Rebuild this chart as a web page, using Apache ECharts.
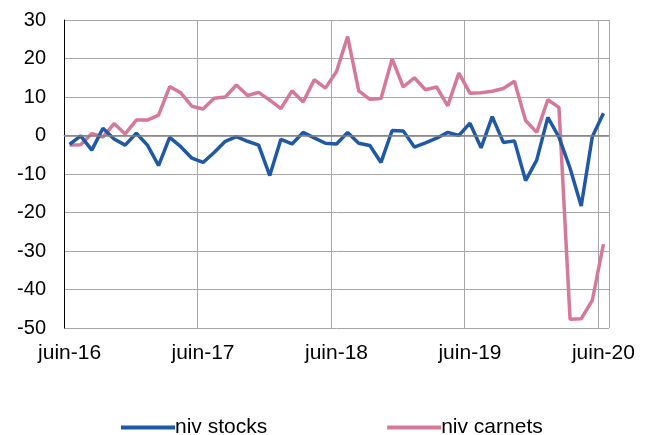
<!DOCTYPE html>
<html>
<head>
<meta charset="utf-8">
<script src="https://cdn.jsdelivr.net/npm/echarts@6/dist/echarts.min.js"></script>
<style>
html,body{margin:0;padding:0;background:#fff;}
#chart{width:652px;height:435px;}
</style>
</head>
<body>
<div id="chart"></div>
<script>
// Monthly categories, June 2016 to June 2020
const monthNames = ['juin','juil.','août','sept.','oct.','nov.','déc.','janv.','févr.','mars','avr.','mai'];
const startYears = [16,16,16,16,16,16,16,17,17,17,17,17];
const categories = [];
for (let i = 0; i < 49; i++) {
  const m = i % 12;
  const y = startYears[m] + Math.floor(i / 12);
  categories.push(monthNames[m] + '-' + y);
}

const nivStocks = [-2.3, -0.1, -3.8, 1.9, -0.9, -2.5, 0.6, -2.5, -7.8, -0.5, -2.9, -5.9, -7.0, -4.4, -1.5, -0.3, -1.5, -2.5, -10.4, -1.0, -2.2, 0.8, -0.6, -2.0, -2.2, 0.8, -2.0, -2.6, -7.0, 1.3, 1.2, -3.0, -1.9, -0.7, 0.8, 0.0, 3.2, -3.2, 4.9, -1.8, -1.4, -11.7, -6.4, 4.7, -0.4, -8.5, -18.3, -0.3, 5.8];
const nivCarnets = [-2.5, -2.4, 0.5, -0.4, 3.1, 0.4, 4.0, 4.0, 5.3, 12.7, 11.1, 7.6, 6.9, 9.7, 10.0, 13.1, 10.4, 11.2, 9.2, 7.0, 11.6, 8.7, 14.5, 12.3, 16.6, 25.7, 11.6, 9.4, 9.6, 19.9, 12.6, 15.0, 11.9, 12.6, 7.7, 16.2, 11.0, 11.1, 11.5, 12.2, 14.1, 3.9, 0.8, 9.3, 7.3, -47.7, -47.6, -42.8, -28.2];

const yMin = -50, yMax = 30, yStep = 10;
const seriesNames = ['niv stocks', 'niv carnets'];

const FONT = '"Liberation Sans", Arial, sans-serif';
const chart = echarts.init(document.getElementById('chart'), null, {renderer: 'canvas'});
chart.setOption({
  animation: false,
  backgroundColor: '#ffffff',
  textStyle: {fontFamily: FONT},
  grid: {left: 64, right: 43, top: 20, bottom: 107},
  legend: {
    data: seriesNames,
    left: 116, top: 412,
    itemGap: 120,
    itemWidth: 54, itemHeight: 4,
    icon: 'rect',
    textStyle: {fontFamily: FONT, fontSize: 21, color: '#000', padding: [0, 0, 0, -5]}
  },
  xAxis: {
    type: 'category',
    data: categories,
    boundaryGap: true,
    axisLine: {show: true, lineStyle: {color: '#a6a6a6', width: 1}},
    axisTick: {show: false, interval: 11},
    axisLabel: {interval: 11, fontSize: 21, color: '#000', fontFamily: FONT, margin: 15},
    splitLine: {show: true, interval: 11, lineStyle: {color: '#a6a6a6', width: 1}}
  },
  yAxis: {
    type: 'value',
    min: yMin, max: yMax, interval: yStep,
    axisLine: {show: true, lineStyle: {color: '#000', width: 1}},
    axisTick: {show: false},
    axisLabel: {fontSize: 20, color: '#000', fontFamily: FONT, margin: 18},
    splitLine: {show: true, lineStyle: {color: '#a6a6a6', width: 1}}
  },
  series: [
    {
      name: seriesNames[0], type: 'line', data: nivStocks,
      symbol: 'none', z: 3,
      lineStyle: {color: '#1f58a5', width: 3.5},
      itemStyle: {color: '#1f58a5'},
      markLine: {
        silent: true, symbol: 'none', label: {show: false},
        lineStyle: {color: '#808080', width: 1.5, type: 'solid'},
        data: [{yAxis: 0}]
      }
    },
    {
      name: seriesNames[1], type: 'line', data: nivCarnets,
      symbol: 'none', z: 2,
      lineStyle: {color: '#d6789a', width: 3.5},
      itemStyle: {color: '#d6789a'}
    }
  ]
});
</script>
</body>
</html>
